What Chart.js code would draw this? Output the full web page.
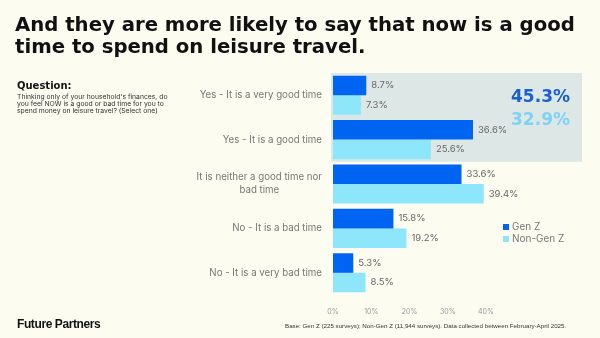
<!DOCTYPE html>
<html>
<head>
<meta charset="utf-8">
<script src="https://cdn.jsdelivr.net/npm/chart.js@4"></script>
<style>
  body { margin: 0; background: #fcfdf0; }
  #wrap { position: relative; width: 600px; height: 338px; background: #fcfdf0; overflow: hidden; }
  #wrap canvas { position: absolute; left: 0; top: 0; }
  .txt { position: absolute; font-family: Inter, "Noto Sans", sans-serif; color: #111; white-space: nowrap; }
  #title { left: 15px; top: 14px; font-family: "DejaVu Sans", sans-serif; font-size: 19.7px; font-weight: 700; line-height: 22px; }
  #qhead { left: 17px; top: 80px; font-family: "DejaVu Sans", sans-serif; font-size: 10px; font-weight: 700; }
  #qbody { left: 17px; top: 94px; font-size: 6.8px; line-height: 6.8px; color: #333; width: 162px; white-space: normal; }
  #brand { left: 17px; top: 317px; font-family: "Liberation Sans", Arial, sans-serif; font-size: 12px; font-weight: 700; letter-spacing: -0.4px; }
  #base { left: 285px; top: 322px; font-family: "Liberation Sans", Arial, sans-serif; font-size: 6.2px; color: #333; }
</style>
</head>
<body>
<div id="wrap">
  <canvas id="chart" width="600" height="338"></canvas>
  <div class="txt" id="title">And they are more likely to say that now is a good<br>time to spend on leisure travel.</div>
  <div class="txt" id="qhead">Question:</div>
  <div class="txt" id="qbody">Thinking only of your household's finances, do you feel NOW is a good or bad time for you to spend money on leisure travel? (Select one)</div>
  <div class="txt" id="brand">Future Partners</div>
  <div class="txt" id="base">Base: Gen Z (225 surveys); Non-Gen Z (11,944 surveys). Data collected between February-April 2025.</div>
</div>
<script>
const categories = [
    ["Yes - It is a very good time"],
    ["Yes - It is a good time"],
    ["It is neither a good time nor", "bad time"],
    ["No - It is a bad time"],
    ["No - It is a very bad time"]
];
const seriesNames = ["Gen Z", "Non-Gen Z"];
const genZ = [8.7, 36.6, 33.6, 15.8, 5.3];
const nonGenZ = [7.3, 25.6, 39.4, 19.2, 8.5];
const totalsGood = ["45.3%", "32.9%"];
const xTicks = [0, 10, 20, 30, 40];

const darkBlue = '#0064f3';
const lightBlue = '#8ee6fa';

// shaded box behind the two "good time" rows + totals
const boxPlugin = {
    id: 'goodBox',
    beforeDatasetsDraw(chart) {
        let ctx = chart.ctx;
        let y = chart.scales.y;
        let half = (y.getPixelForValue(1) - y.getPixelForValue(0)) / 2;
        let top = y.getPixelForValue(0) - half;
        let bottom = y.getPixelForValue(1) + half;
        ctx.save();
        ctx.fillStyle = '#dde8e6';
        ctx.fillRect(chart.chartArea.left - 2, top, 582 - chart.chartArea.left + 2, bottom - top);
        ctx.font = 'bold 17px "DejaVu Sans", sans-serif';
        ctx.textAlign = 'right';
        ctx.textBaseline = 'middle';
        ctx.fillStyle = '#1a5fd6';
        ctx.fillText(totalsGood[0], 570, top + 25);
        ctx.fillStyle = '#7fd2f6';
        ctx.fillText(totalsGood[1], 570, top + 48);
        ctx.restore();
    }
};

// category labels and value labels
const labelPlugin = {
    id: 'labels',
    afterDatasetsDraw(chart) {
        let ctx = chart.ctx;
        let y = chart.scales.y;
        ctx.save();
        ctx.font = '9.7px Inter, sans-serif';
        ctx.fillStyle = '#777';
        ctx.textBaseline = 'middle';
        ctx.textAlign = 'center';
        categories.forEach((lines, i) => {
            let w = Math.max(...lines.map(l => ctx.measureText(l).width));
            let cx = 322 - w / 2;
            let cy = y.getPixelForValue(i) - (lines.length - 1) * 6.5;
            lines.forEach((l, j) => ctx.fillText(l, cx, cy + j * 13));
        });
        ctx.textAlign = 'left';
        ctx.font = '9.5px Inter, sans-serif';
        ctx.fillStyle = '#666';
        chart.data.datasets.forEach((ds, di) => {
            chart.getDatasetMeta(di).data.forEach((bar, i) => {
                ctx.fillText(ds.data[i].toFixed(1) + '%', bar.x + 5, bar.y);
            });
        });
        // legend
        ctx.font = '10px Inter, sans-serif';
        seriesNames.forEach((n, i) => {
            ctx.fillStyle = i == 0 ? darkBlue : lightBlue;
            ctx.fillRect(503, 224 + i * 12, 6, 6);
            ctx.fillStyle = '#777';
            ctx.fillText(n, 512, 227 + i * 12);
        });
        ctx.restore();
    }
};

new Chart("chart", {
    type: 'bar',
    data: {
        labels: categories,
        datasets: [
            { label: seriesNames[0], data: genZ, backgroundColor: darkBlue },
            { label: seriesNames[1], data: nonGenZ, backgroundColor: lightBlue }
        ]
    },
    options: {
        indexAxis: 'y',
        responsive: false,
        animation: false,
        layout: { padding: { left: 333, top: 73, right: 114, bottom: 0 } },
        datasets: { bar: { categoryPercentage: 0.88, barPercentage: 1.0 } },
        plugins: { legend: { display: false }, tooltip: { enabled: false } },
        scales: {
            y: { display: false },
            x: {
                min: 0, max: 40,
                grid: { display: false },
                border: { display: false },
                afterFit(s) { s.height = 43; },
                afterBuildTicks(s) { s.ticks = xTicks.map(v => ({ value: v })); },
                ticks: {
                    padding: 5,
                    color: '#999',
                    font: { family: 'Inter', size: 7 },
                    callback: v => v + '%'
                }
            }
        }
    },
    plugins: [boxPlugin, labelPlugin]
});
</script>
</body>
</html>
